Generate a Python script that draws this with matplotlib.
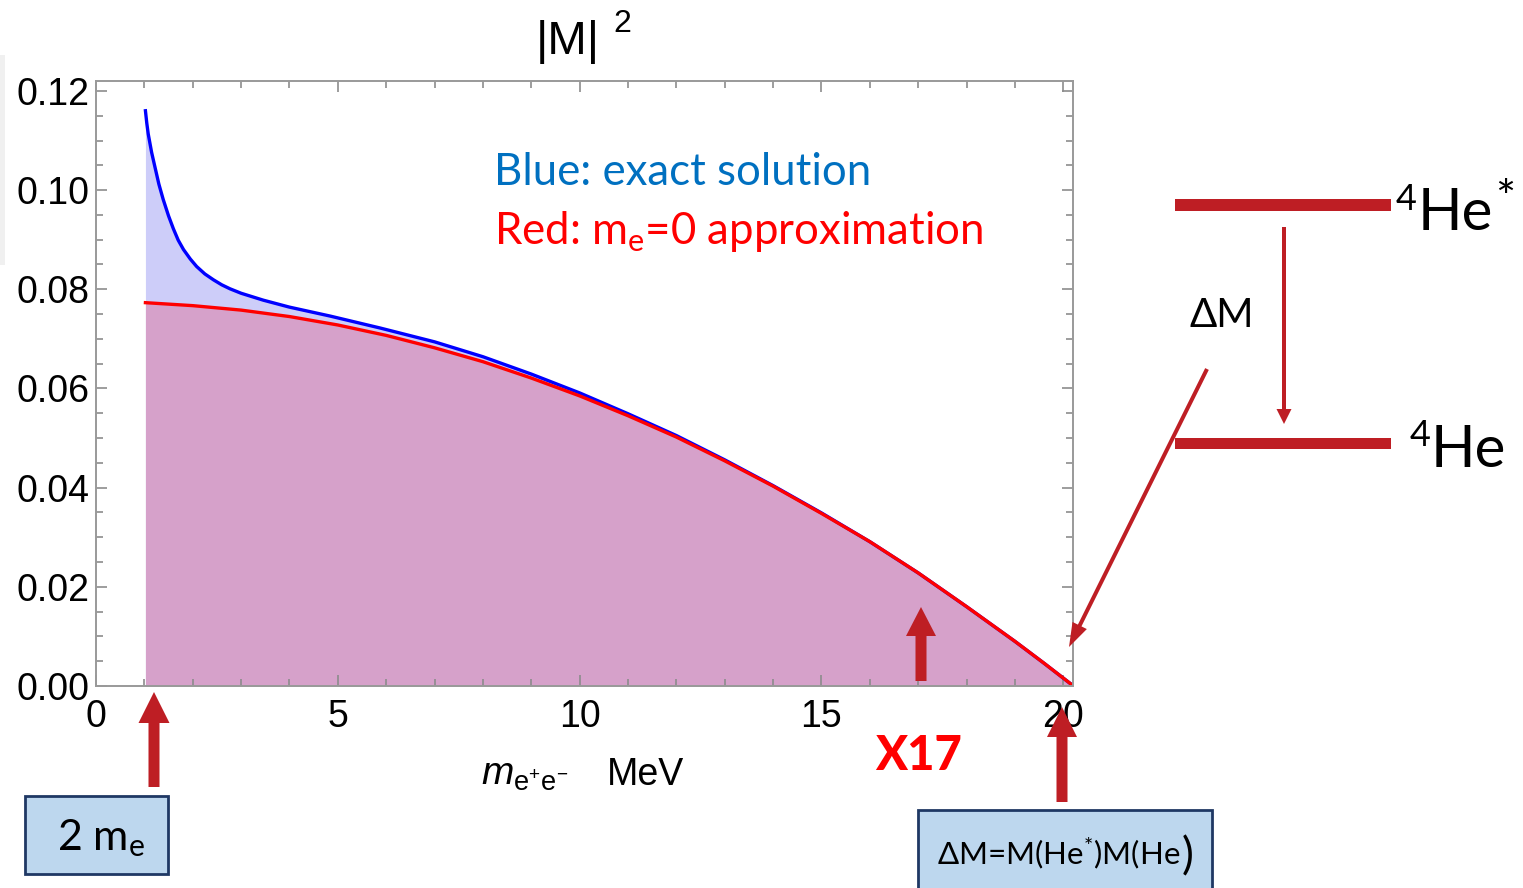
import matplotlib
matplotlib.use("Agg")
import matplotlib.pyplot as plt
from matplotlib.patches import FancyArrow, Rectangle
from matplotlib.ticker import MultipleLocator, FormatStrFormatter

# |M|^2 (m_e+e- in MeV)
m_blue = [1.022, 1.05, 1.08, 1.15, 1.22, 1.30, 1.39, 1.50, 1.60, 1.70, 1.81,
          1.95, 2.08, 2.25, 2.43, 2.60, 2.77, 3.0, 3.46, 4.0, 4.84, 5.87,
          7.0, 8.0, 9.0, 10.0, 11.0, 12.0, 13.0, 14.0, 15.0, 16.0, 17.0,
          18.0, 19.0, 19.6, 20.21]
exact = [0.1160, 0.1135, 0.1113, 0.1076, 0.1046, 0.1012, 0.0981, 0.0948,
         0.0922, 0.0899, 0.0880, 0.0861, 0.0846, 0.0831, 0.0819, 0.0809,
         0.0801, 0.0792, 0.0778, 0.0764, 0.0746, 0.0722, 0.0694, 0.0664,
         0.0629, 0.0591, 0.0549, 0.0505, 0.0456, 0.0404, 0.0349, 0.0291,
         0.0228, 0.0160, 0.0090, 0.0046, 0.0]

m_red = [1.022, 2.0, 3.0, 4.0, 5.0, 6.0, 7.0, 8.0, 9.0, 10.0, 11.0, 12.0,
         13.0, 14.0, 15.0, 16.0, 17.0, 18.0, 19.0, 19.6, 20.21]
approx = [0.0773, 0.0767, 0.0758, 0.0745, 0.0728, 0.0707, 0.0682, 0.0654,
          0.0621, 0.0585, 0.0545, 0.0502, 0.0454, 0.0403, 0.0348, 0.0291,
          0.0228, 0.0160, 0.0090, 0.0046, 0.0]

xticks = [0, 5, 10, 15, 20]
yticks = [0.00, 0.02, 0.04, 0.06, 0.08, 0.10, 0.12]

plt.rcParams["mathtext.fontset"] = "custom"
plt.rcParams["mathtext.rm"] = "Lato"
plt.rcParams["mathtext.it"] = "Liberation Sans:italic"
plt.rcParams["mathtext.sf"] = "Liberation Sans"

W, H = 1523, 888
fig = plt.figure(figsize=(W / 100, H / 100), dpi=100)

# main frame (pixel box 96..1073 x 81..686)
ax = fig.add_axes([96 / W, 1 - 686 / H, (1073 - 96) / W, (686 - 81) / H])
ax.fill_between(m_blue, exact, color="#cdcdf9", lw=0)
ax.fill_between(m_red, approx, color="#d6a1ca", lw=0)
ax.plot(m_blue, exact, color="#0000ff", lw=2.4)
ax.plot(m_red, approx, color="#ff0000", lw=2.4)
ax.set_xlim(0, 20.2)
ax.set_ylim(0, 0.122)
ax.set_xticks(xticks)
ax.set_yticks(yticks)
ax.xaxis.set_minor_locator(MultipleLocator(1))
ax.yaxis.set_minor_locator(MultipleLocator(0.005))
ax.yaxis.set_major_formatter(FormatStrFormatter("%.2f"))
ax.tick_params(which="both", direction="in", top=True, right=True,
               color="#8c8c8c", width=1.2)
ax.tick_params(which="major", length=8)
ax.tick_params(which="minor", length=5)
ax.tick_params(axis="x", pad=9)
ax.tick_params(axis="y", pad=5)
for lab in ax.get_xticklabels() + ax.get_yticklabels():
    lab.set_family("Liberation Sans")
    lab.set_fontsize(27)
for sp in ax.spines.values():
    sp.set_color("#999999")
    sp.set_linewidth(1.4)

# overlay in pixel coordinates for annotations
ov = fig.add_axes([0, 0, 1, 1], zorder=5)
ov.set_xlim(0, W)
ov.set_ylim(H, 0)
ov.axis("off")
ov.patch.set_alpha(0)

dark_red = "#be1e24"
box_fc = "#bdd7ee"
box_ec = "#1f3864"

ov.add_patch(Rectangle((0, 55), 5, 210, fc="#f0f0f0", ec="none"))

# title and x label
ov.text(536, 54, "|M|", fontsize=34, family="Liberation Sans",
        ha="left", va="baseline")
ov.text(613, 32, "2", fontsize=23, family="Liberation Sans",
        ha="left", va="baseline")
ov.text(481, 785, r"$m_{\mathsf{e^{+}e^{-}}}$", fontsize=28, ha="left",
        va="baseline")
ov.text(607, 785, "MeV", fontsize=27, family="Liberation Sans",
        ha="left", va="baseline")

# legend text
ov.text(494, 185, "Blue: exact solution", fontsize=31.5, family="Lato",
        color="#0070c0", ha="left", va="baseline")
ov.text(494, 244, r"Red: m$_{\mathrm{e}}$=0 approximation", fontsize=31.5,
        family="Lato", color="#ff0000", ha="left", va="baseline")

# arrows
ov.add_patch(FancyArrow(154, 787, 0, -95, width=11, head_width=31,
                        head_length=31, length_includes_head=True,
                        fc=dark_red, ec="none"))
ov.add_patch(FancyArrow(921, 681, 0, -74, width=11, head_width=30,
                        head_length=29, length_includes_head=True,
                        fc=dark_red, ec="none"))
ov.add_patch(FancyArrow(1062, 802, 0, -95, width=11, head_width=30,
                        head_length=30, length_includes_head=True,
                        fc=dark_red, ec="none"))
ov.add_patch(FancyArrow(1284, 227, 0, 197, width=4, head_width=15,
                        head_length=15, length_includes_head=True,
                        fc=dark_red, ec="none"))
ov.add_patch(FancyArrow(1207, 369, -138, 278, width=4, head_width=16,
                        head_length=24, length_includes_head=True,
                        fc=dark_red, ec="none"))

ov.text(875, 770, "X17", fontsize=34, family="Lato", fontweight="black",
        color="#ff0000", ha="left", va="baseline")

# boxes
ov.add_patch(Rectangle((25, 796), 143, 78, fc=box_fc, ec=box_ec, lw=2))
ov.text(57, 850, r"2 m$_{\mathrm{e}}$", fontsize=31, family="Lato",
        ha="left", va="baseline")
ov.add_patch(Rectangle((918, 810), 294, 80, fc=box_fc, ec=box_ec, lw=2))
dm = ov.text(937, 865, r"ΔM=M(He$^{*}$)M(He", fontsize=22.5,
             family=["Lato", "DejaVu Sans"], ha="left", va="baseline")
fig.canvas.draw()
bb = dm.get_window_extent()
ov.text(bb.x1 + 1, 869, ")", fontsize=32, family="Lato", ha="left",
        va="baseline")

# level scheme
ov.add_patch(Rectangle((1175, 199), 216, 12, fc=dark_red, ec="none"))
ov.add_patch(Rectangle((1175, 438), 216, 11, fc=dark_red, ec="none"))
ov.text(1190, 327, "ΔM", fontsize=29, family=["Lato", "DejaVu Sans"],
        ha="left", va="baseline")
ov.text(1396, 210, "4", fontsize=26, family="Lato", ha="left",
        va="baseline")
ov.text(1418, 230, "He", fontsize=42, family="Lato", ha="left",
        va="baseline")
ov.text(1495, 213, "*", fontsize=34, family="Lato", ha="left",
        va="baseline")
ov.text(1410, 446, "4", fontsize=26, family="Lato", ha="left",
        va="baseline")
ov.text(1431, 467, "He", fontsize=42, family="Lato", ha="left",
        va="baseline")

fig.savefig("out.png", dpi=100)
